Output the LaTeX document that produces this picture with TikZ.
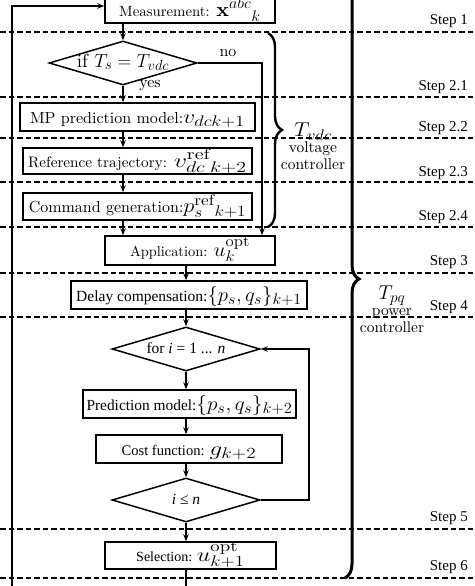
\RequirePackage{fix-cm}
\documentclass[tikz,border=0pt]{standalone}
\usepackage{graphicx}
\usepackage{fontspec}
\setmainfont{lmroman10-regular.otf}[BoldFont=lmroman10-bold.otf,ItalicFont=lmroman10-italic.otf]
\newfontfamily\tms{Liberation Serif}
\DeclareMathSizes{19}{19}{14.6}{11.5}
\DeclareMathSizes{20}{20}{15.4}{12}
\newcommand\mth[3]{\scalebox{#1}[1]{\fontsize{#2}{#2}\selectfont$#3$}}
\usetikzlibrary{shapes.geometric,arrows.meta,decorations.pathreplacing,calc}
\begin{document}
\begin{tikzpicture}[x=1pt,y=-1pt,
  box/.style={draw,line width=1.6pt,rectangle,inner sep=0pt,minimum height=28pt,text height=15pt,text depth=3pt},
  dia/.style={draw,line width=1.5pt,diamond,inner sep=0pt,minimum width=148pt,minimum height=44pt,shape aspect=3.4,text height=11pt,text depth=3pt},
  arr/.style={line width=1.1pt,-{Stealth[length=7pt,width=5.5pt,inset=2.5pt]}},
  sep/.style={line width=1.3pt,dash pattern=on 5.5pt off 3pt},
  steplbl/.style={anchor=east,inner sep=0pt,font=\tms\fontsize{15}{17}\selectfont},
  cmf/.style={font=\fontsize{#1}{16.5}\selectfont},
  tmf/.style={font=\tms\fontsize{#1}{17}\selectfont},
  brc/.style={decorate,decoration={brace,amplitude=14pt}},
]
\useasboundingbox (0,0) rectangle (474,586);
\clip (0,0) rectangle (474,586);

% separators
\foreach \yy in {32,97,138,182,227,273,317,529,578}
  \draw[sep] (0,\yy) -- (474,\yy);

% step labels
\node[steplbl] (st1)  at (468,21) {Step 1};
\node[steplbl] (st21) at (468,87) {Step 2.1};
\node[steplbl] (st22) at (468,128) {Step 2.2};
\node[steplbl] (st23) at (468,173) {Step 2.3};
\node[steplbl] (st24) at (468,217) {Step 2.4};
\node[steplbl] (st3)  at (468,262) {Step 3};
\node[steplbl] (st4)  at (468,307) {Step 4};
\node[steplbl] (st5)  at (468,518) {Step 5};
\node[steplbl] (st6)  at (468,567) {Step 6};

% boxes
\node[box,anchor=south,minimum width=170pt,text height=32pt,text depth=7pt,minimum height=39pt,cmf=14.8] (meas) at (190,24)
  {Measurement: \mth{1.05}{20}{\mathbf{x}^{abc}{}^{}_{k}}};
\node[dia,cmf=19] (d1) at (123,63) {if \mth{1}{19}{T_s = T_{vdc}}};
\node[box,minimum width=235pt,cmf=16] (mp) at (137.5,117) {MP prediction model:\mth{1.19}{20}{v_{dck+1}}};
\node[box,minimum width=229pt,minimum height=26pt,cmf=15.2] (ref) at (137.5,161) {Reference trajectory: \mth{1.3}{20}{v^{\mathrm{ref}}_{dc\;k+2}}};
\node[box,minimum width=229pt,minimum height=27pt,cmf=16] (cmd) at (137.5,206.5) {Command generation:\mth{1.12}{20}{p_s^{\mathrm{ref}}{}_{k+1}}};
\node[box,minimum width=170pt,minimum height=29pt,cmf=14.4] (app) at (190,250.5) {Application: \mth{1.07}{20}{u_k^{\mathrm{opt}}}};
\node[box,minimum width=236pt,tmf=15.5] (delay) at (189,295) {Delay compensation:\mth{1.04}{20}{\{p_s, q_s\}_{k+1}}};
\node[dia,tmf=15.5] (fordia) at (186,349) {for \textit{i} = 1 ... \textit{n}};
\node[box,minimum width=213pt,tmf=15.4] (pred) at (189.5,404) {Prediction model:\mth{1.06}{20}{\{p_s, q_s\}_{k+2}}};
\node[box,minimum width=186pt,tmf=14.6] (cost) at (189,449) {Cost function: \mth{1.25}{20}{g_{k+2}}};
\node[dia,tmf=15.5] (cond) at (186,500) {\textit{i} ≤ \textit{n}};
\node[box,minimum width=171pt,minimum height=27pt,tmf=14] (sel) at (190.5,555.5) {Selection: \mth{1.22}{20}{u_{k+1}^{\mathrm{opt}}}};

% labels
\node[cmf=16,inner sep=0pt] (yes) at (150,86) {yes};
\node[cmf=16,inner sep=0pt] (no) at (228,53) {no};
\node[cmf=15.5,align=center,inner sep=0pt] (tvdc) at (313,146) {\mth{1.1}{20}{T_{vdc}}\\voltage\\controller};
\node[cmf=15.5,align=center,inner sep=0pt] (tpq) at (392,309) {\mth{1}{20}{T_{pq}}\\power\\controller};

% coordinates
\coordinate (nox) at (262,63);
\coordinate (lpx) at (309,500);
\coordinate (bot) at (186,600);
\coordinate (lft) at (12,600);
\coordinate (inarr) at (105,6);

% upper flow (axis x = 123)
\draw[arr] (meas.south -| d1.north) -- (d1.north);
\draw[arr] (d1.south) -- (mp.north -| d1.south);
\draw[arr] (mp.south -| d1.south) -- (ref.north -| d1.south);
\draw[arr] (ref.south -| d1.south) -- (cmd.north -| d1.south);
\draw[arr] (cmd.south -| d1.south) -- (app.north -| d1.south);
\draw[arr] (d1.east) -- (nox) -- (app.north -| nox);

% lower flow (axis x = 186)
\draw[arr] (app.south -| fordia.north) -- (delay.north -| fordia.north);
\draw[arr] (delay.south -| fordia.north) -- (fordia.north);
\draw[arr] (fordia.south) -- (pred.north -| fordia.south);
\draw[arr] (pred.south -| fordia.south) -- (cost.north -| fordia.south);
\draw[arr] (cost.south -| fordia.south) -- (cond.north);
\draw[arr] (cond.south) -- (sel.north -| cond.south);
\draw[arr] (cond.east) -- (lpx) |- (fordia.east);
\draw[arr] (sel.south -| cond.south) -- (bot) -- (lft) |- (inarr -| meas.west);

% braces
\coordinate (b1a) at (268,33);
\coordinate (b1b) at (268,227);
\coordinate (b2a) at (345,-20);
\coordinate (b2b) at (345,578);
\draw[brc,line width=2.4pt] (b1a) -- (b1b);
\draw[brc,line width=3pt] (b2a) -- (b2b);
\end{tikzpicture}
\end{document}
